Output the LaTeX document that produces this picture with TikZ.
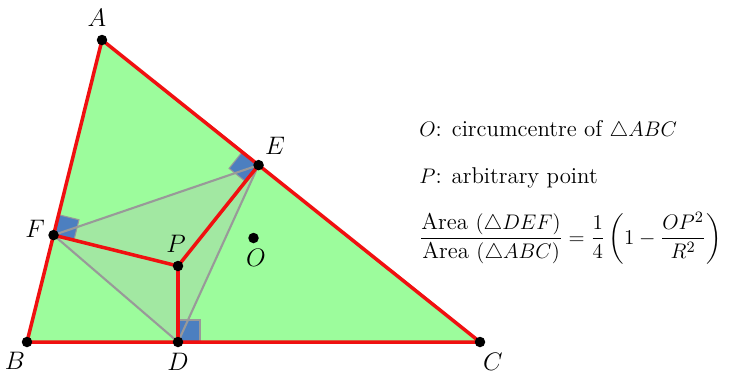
\documentclass[tikz,border=0pt]{standalone}
\usepackage{amsmath}
\usepackage{xcolor}
\usetikzlibrary{calc}
\definecolor{triGreen}{HTML}{9CFC9C}
\definecolor{pedalGreen}{HTML}{A2E8A2}
\definecolor{edgeRed}{HTML}{F01010}
\definecolor{pedalGray}{HTML}{999999}
\definecolor{markBlue}{HTML}{4472C4}

\begin{document}
\begin{tikzpicture}[
  x=0.02cm, y=-0.02cm,
  every node/.style={font=\fontsize{13}{16}\selectfont},
  side/.style={draw=edgeRed, line width=2pt, line join=round},
  pedal/.style={draw=pedalGray, line width=1.2pt},
  dot/.style={circle, fill=black, inner sep=0pt, minimum size=0.21cm},
  rightmark/.style={fill=markBlue, fill opacity=0.9, draw=pedalGray, line width=0.6pt},
  lbl/.style={inner sep=1pt, font=\fontsize{15}{18}\selectfont}
]
  \useasboundingbox (0,0) rectangle (738,373);

  % triangle and the point P
  \coordinate (A) at (102,40);
  \coordinate (B) at (27,342);
  \coordinate (C) at (480,342);
  \coordinate (P) at (178,266);
  \coordinate (O) at (253.5,238);
  % feet of the perpendiculars from P
  \coordinate (D) at ($(B)!(P)!(C)$);
  \coordinate (E) at ($(A)!(P)!(C)$);
  \coordinate (F) at ($(A)!(P)!(B)$);

  \fill[triGreen] (A) -- (B) -- (C) -- cycle;
  \fill[pedalGreen] (D) -- (E) -- (F) -- cycle;

  % right-angle marks
  \coordinate (Dc) at ($(D)!0.44cm!(C)$);
  \coordinate (Dp) at ($(D)!0.44cm!(P)$);
  \coordinate (Ea) at ($(E)!0.42cm!(A)$);
  \coordinate (Ep) at ($(E)!0.42cm!(P)$);
  \coordinate (Fa) at ($(F)!0.42cm!(A)$);
  \coordinate (Fp) at ($(F)!0.42cm!(P)$);
  \filldraw[rightmark] (D) -- (Dc) -- ($(Dc)+(Dp)-(D)$) -- (Dp) -- cycle;
  \filldraw[rightmark] (E) -- (Ea) -- ($(Ea)+(Ep)-(E)$) -- (Ep) -- cycle;
  \filldraw[rightmark] (F) -- (Fa) -- ($(Fa)+(Fp)-(F)$) -- (Fp) -- cycle;

  \draw[pedal] (D) -- (E) -- (F) -- cycle;
  \draw[side] (A) -- (B) -- (C) -- cycle;
  \draw[side] (F) -- (P) -- (E);
  \draw[side] (P) -- (D);

  \foreach \pt in {A,B,C,D,E,F,P,O}
    \node[dot] (dot\pt) at (\pt) {};

  \node[lbl] (labA) at (97,18) {$A$};
  \node[lbl] (labB) at (15,361) {$B$};
  \node[lbl] (labC) at (493,362) {$C$};
  \node[lbl] (labD) at (178,362) {$D$};
  \node[lbl] (labE) at (275,146) {$E$};
  \node[lbl] (labF) at (35,229) {$F$};
  \node[lbl] (labP) at (176,244) {$P$};
  \node[lbl] (labO) at (256,258) {$O$};

  % legend
  \node[anchor=base west, inner sep=0pt] (lineO) at (419,136) {$O$: circumcentre of $\triangle ABC$};
  \node[anchor=base west, inner sep=0pt] (lineP) at (419,183) {$P$: arbitrary point};
  \node[anchor=west, inner sep=0pt] (ratio) at (419,238)
    {$\dfrac{\text{Area }(\triangle DEF)}{\text{Area }(\triangle ABC)}=\dfrac{1}{4}\left(1-\dfrac{OP^2}{R^2}\right)$};
\end{tikzpicture}
\end{document}
